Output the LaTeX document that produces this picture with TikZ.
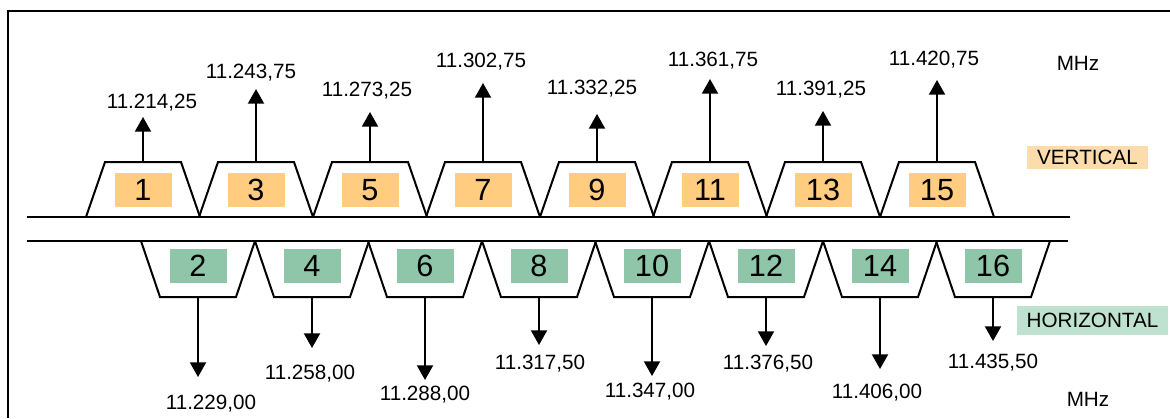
\documentclass[tikz,border=0pt]{standalone}
\usepackage{fontspec}
\setmainfont{Liberation Sans}
\usetikzlibrary{arrows.meta}

\definecolor{vfill}{HTML}{FFCC80}
\definecolor{hfill}{HTML}{8FC6A9}
\definecolor{vtag}{HTML}{FDDCAC}
\definecolor{htag}{HTML}{BFE1D0}

\tikzset{
  chan/.style={line width=1.5pt, line join=miter},
  freq/.style={-{Triangle[width=12pt,length=11pt]}, line width=1.5pt},
  numbox/.style={minimum width=42.75pt, minimum height=25.5pt, inner sep=0pt, font=\fontsize{23}{23}\selectfont},
  lbl/.style={inner sep=0pt, font=\fontsize{15.5}{18}\selectfont}
}

\begin{document}
\begin{tikzpicture}[x=0.75pt,y=-0.75pt]
\useasboundingbox (0,0) rectangle (1170,418);
\draw[line width=1.5pt] (8,418) -- (8,11) -- (1170,11);
\coordinate (vl) at (27,217);
\coordinate (vr) at (1070,217);
\coordinate (hl) at (27,241);
\coordinate (hr) at (1068,241);
\draw[chan] (vl) -- (vr);
\draw[chan] (hl) -- (hr);
\foreach \n/\tip/\lx/\ly/\lab [count=\k from 0] in {
 {1/117/152/103/11.214,25}, {3/89/251/73/11.243,75}, {5/112/367/91/11.273,25}, {7/83/481/62/11.302,75},
 {9/114/592/89/11.332,25}, {11/79/713/61/11.361,75}, {13/111/821/90/11.391,25}, {15/80/934/60/11.420,75}} {
 \pgfmathsetmacro\cx{round(143+113.4*\k)}
 \draw[chan] (\cx-57,217) -- (\cx-38,162) -- (\cx+38,162) -- (\cx+57,217);
 \node[numbox, fill=vfill] (v\n) at (\cx,190) {\n};
 \coordinate (vb\n) at (\cx,162);
 \coordinate (vt\n) at (\cx,\tip);
 \draw[freq] (vb\n) -- (vt\n);
 \node[lbl] (vf\n) at (\lx,\ly) {\lab};
}
\foreach \n/\tip/\lx/\ly/\lab [count=\k from 0] in {
 {2/377/211/404/11.229,00}, {4/348/310/374/11.258,00}, {6/380/425/395/11.288,00}, {8/345/540/364/11.317,50},
 {10/376/650/392/11.347,00}, {12/346/768/364/11.376,50}, {14/369/877/393/11.406,00}, {16/341/993/363/11.435,50}} {
 \pgfmathsetmacro\cx{round(198+113.6*\k)}
 \draw[chan] (\cx-57,241) -- (\cx-38,297) -- (\cx+38,297) -- (\cx+57,241);
 \node[numbox, fill=hfill] (h\n) at (\cx,266) {\n};
 \coordinate (hb\n) at (\cx,297);
 \coordinate (ht\n) at (\cx,\tip);
 \draw[freq] (hb\n) -- (ht\n);
 \node[lbl] (hf\n) at (\lx,\ly) {\lab};
}
\node[lbl] (mhzv) at (1078,63) {MHz};
\node[lbl] (mhzh) at (1088,399) {MHz};
\node[lbl, fill=vtag, minimum width=90.75pt, minimum height=17.25pt] (vert) at (1087.5,157.5) {VERTICAL};
\node[lbl, fill=htag, minimum width=113pt, minimum height=21.75pt] (horiz) at (1092.5,320.5) {HORIZONTAL};
\end{tikzpicture}
\end{document}
